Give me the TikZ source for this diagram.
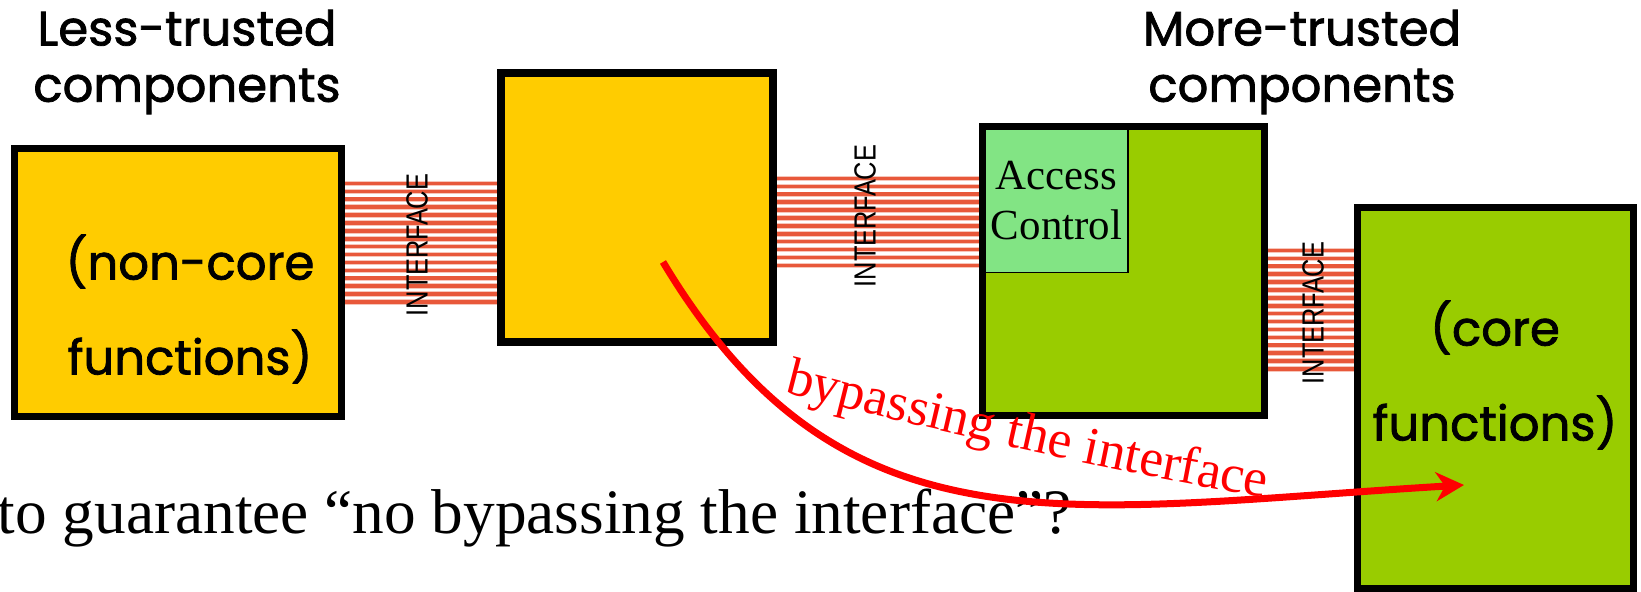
\documentclass[tikz,border=0pt]{standalone}
\usepackage{fontspec}
\newfontfamily\comicfont[FakeBold=1.6]{Poppins}
\newfontfamily\timesfont{Liberation Serif}
\newfontfamily\ifacefont[FakeStretch=0.83]{Liberation Sans}
\usepackage{xcolor}
\usepackage{tikz}
\usetikzlibrary{positioning}
\usetikzlibrary{arrows.meta}
\usetikzlibrary{backgrounds}
\usetikzlibrary{decorations}
\usetikzlibrary{decorations.text}

\definecolor{ylw}{HTML}{FFCC00}
\definecolor{grn}{HTML}{99CC00}
\definecolor{accgrn}{HTML}{82E484}
\definecolor{wirered}{HTML}{E8583A}
\definecolor{wirepink}{HTML}{F7C6BA}

\tikzset{
  box/.style={draw=black, line width=0.7mm, inner sep=0pt, outer sep=0pt},
  comic/.style={font=\comicfont\fontsize{13.7}{16}\selectfont, align=center, inner sep=0pt},
  inside/.style={font=\comicfont\fontsize{13.7}{27}\selectfont, align=center, inner sep=0pt},
  iface/.style={font=\ifacefont\fontsize{8.7}{10}\selectfont, inner sep=0pt, rotate=90},
  halo/.style={wirepink, line width=0.55mm},
  wire/.style={wirered, line width=0.36mm},
}

\newcommand{\wirebundle}[4]{%
  \foreach \k in {0,...,#4} {
    \pgfmathsetmacro\yy{#3+\k*7.9}
    \draw[halo] (#1.east |- 0,\yy) -- (#2.west |- 0,\yy);
    \draw[wire] (#1.east |- 0,\yy) -- (#2.west |- 0,\yy);
  }%
}

\begin{document}
\begin{tikzpicture}[x=0.01cm, y=-0.01cm]
\useasboundingbox (0,0) rectangle (1641,592);

\node[box, fill=ylw, minimum width=3.27cm, minimum height=2.68cm] (noncore) at (178,282.5) {};
\node[box, fill=ylw, minimum width=2.72cm, minimum height=2.69cm, line width=0.8mm] (middle) at (637,207.5) {};
\node[box, fill=grn, minimum width=2.82cm, minimum height=2.89cm] (trusted) at (1123.5,271) {};
\node[box, fill=grn, minimum width=2.76cm, minimum height=3.81cm] (core) at (1495.5,398) {};

\begin{scope}[on background layer]
\wirebundle{noncore}{middle}{183.5}{15}
\wirebundle{middle}{trusted}{178.5}{11}
\wirebundle{trusted}{core}{250.5}{15}
\end{scope}

\node[draw=black, line width=0.15mm, fill=accgrn, minimum width=1.43cm, minimum height=1.435cm, inner sep=0pt, align=center,
      font=\timesfont\fontsize{12.2}{14.2}\selectfont] (access) at (1056.5,200.75) {Access\\Control};

\node[iface] (iface1) at (417,245) {INTERFACE};
\node[iface] (iface2) at (865,216) {INTERFACE};
\node[iface] (iface3) at (1313,313) {INTERFACE};

\node[comic] (lesslbl) at (187,62) {Less-trusted\\components};
\node[comic] (morelbl) at (1302,62) {More-trusted\\components};
\node[inside] (noncorelbl) at (190,309) {(non-core\\functions)};
\node[inside] (corelbl) at (1495,375) {(core\\functions)};

\node[anchor=base west, inner sep=0pt, font=\timesfont\fontsize{18}{20}\selectfont] (question) at (-3,534)
  {to guarantee “no bypassing the interface”?};

\coordinate (bypass) at (663,262);
\coordinate (target) at (1464,485);
\draw[red, line width=0.7mm, -{Stealth[length=2.8mm, width=2.9mm, inset=0.9mm]}]
  (bypass) .. controls (843,562) and (1064,509) .. (target);
\path[decorate, decoration={text along path, text align=left,
  text={|\timesfont\fontsize{15.2}{15}\selectfont\color{red}|bypassing the interface}}]
  (784,392) .. controls (900,422) and (1100,470) .. (1262,497);
\end{tikzpicture}
\end{document}
